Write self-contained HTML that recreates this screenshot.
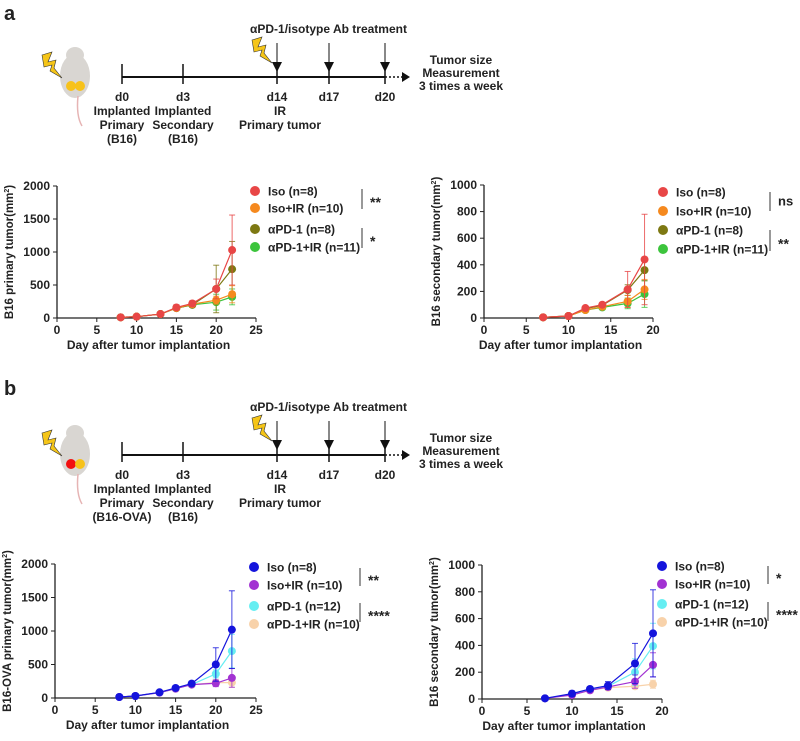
<!DOCTYPE html>
<html><head><meta charset="utf-8"><style>
body{margin:0;background:#fff;width:800px;height:736px;overflow:hidden}
svg text{font-family:"Liberation Sans","DejaVu Sans",sans-serif;font-weight:bold;fill:#222}
</style></head><body>
<svg id="fig" width="800" height="736" viewBox="0 0 800 736" xmlns="http://www.w3.org/2000/svg">
<text x="4" y="20" font-size="20">a</text>
<text x="4" y="395" font-size="20">b</text>
</svg>
<script>
// ---- data ----
const daysA=[8,10,13,15,17,20,22];
const daysB=[7,10,12,14,17,19];
const names=["Iso (n=8)","Iso+IR (n=10)","αPD-1 (n=8)","αPD-1+IR (n=11)"];
const namesB=["Iso (n=8)","Iso+IR (n=10)","αPD-1 (n=12)","αPD-1+IR (n=10)"];
const c1Iso=[10,20,60,160,220,440,1030];
const c1IsoIR=[10,20,60,150,210,270,360];
const c1Pd=[10,20,60,150,200,440,740];
const c1PdIR=[10,20,60,150,200,240,320];
const c1Err=[[10,15,30,40,40,150,530],[5,10,20,30,30,60,130],[5,10,20,30,30,360,420],[5,10,20,30,30,120,120]];
const c2Iso=[5,15,75,100,215,440];
const c2IsoIR=[5,15,60,85,125,215];
const c2Pd=[5,15,70,95,210,360];
const c2PdIR=[5,15,60,80,110,180];
const c2Err=[[3,5,10,15,135,340],[3,5,10,10,45,75],[3,5,10,10,40,80],[3,5,10,10,40,100]];
const c3Iso=[15,30,85,150,215,500,1020];
const c3IsoIR=[15,30,80,140,200,220,300];
const c3Pd=[15,30,80,140,200,360,700];
const c3PdIR=[15,30,80,140,200,230,230];
const c3Err=[[5,10,30,30,30,250,580],[5,10,20,20,20,50,140],[5,10,20,20,20,60,250],[5,10,20,20,20,40,70]];
const c4Iso=[5,40,75,100,265,490];
const c4IsoIR=[5,30,65,90,130,255];
const c4Pd=[5,35,70,95,200,395];
const c4PdIR=[5,30,65,85,95,110];
const c4Err=[[3,20,10,30,150,325],[3,10,10,10,50,90],[3,10,10,10,100,170],[3,10,10,10,15,30]];
const xTicksA=[0,5,10,15,20,25], xTicksB=[0,5,10,15,20];
const yTicks1=[0,500,1000,1500,2000], yTicks2=[0,200,400,600,800,1000];
const colA=["#e84646","#f5891e","#7d7812","#3cc43c"];
const colB=["#1414dc","#a232d2","#66eef2","#f8d2aa"];

const svg=document.getElementById('fig');
const NS="http://www.w3.org/2000/svg";
function mk(tag,attrs,parent,txt){const e=document.createElementNS(NS,tag);for(const k in attrs)e.setAttribute(k,attrs[k]);if(txt!==undefined)e.textContent=txt;(parent||svg).appendChild(e);return e;}

function chart(o){
  const g=mk('g',{});
  
  
  const X=v=>o.x0+(v-0)/(o.xmax)*(o.x1-o.x0);
  const Y=v=>o.y0-(v/o.ymax)*(o.y0-o.y1);
  mk('line',{x1:o.x0,y1:o.y0,x2:o.x1,y2:o.y0,stroke:'#222','stroke-width':1.3},g);
  mk('line',{x1:o.x0,y1:o.y0,x2:o.x0,y2:o.y1,stroke:'#222','stroke-width':1.3},g);
  o.xt.forEach(t=>{mk('line',{x1:X(t),y1:o.y0,x2:X(t),y2:o.y0+4,stroke:'#222'},g);
    const e=mk('text',{x:X(t),y:o.y0+16,'font-size':12,'text-anchor':'middle'},g,t);
    });
  o.yt.forEach(t=>{mk('line',{x1:o.x0-4,y1:Y(t),x2:o.x0,y2:Y(t),stroke:'#222'},g);
    const e=mk('text',{x:o.x0-7,y:Y(t)+4,'font-size':12,'text-anchor':'end'},g,t);
    });
  const xt=mk('text',{x:(o.x0+o.x1)/2-8,y:o.y0+31,'font-size':12,'text-anchor':'middle'},g,'Day after tumor implantation');
  
  const yt=mk('text',{transform:`translate(${o.x0-44},${(o.y0+o.y1)/2}) rotate(-90)`,'font-size':11.5,'text-anchor':'middle'},g);
  yt.textContent=o.ytitle;
  mk('tspan',{'font-size':7,dy:-4},yt,'2');mk('tspan',{dy:4},yt,')');
  
  for(let i=o.series.length-1;i>=0;i--){
    const s=o.series[i];
    const c=o.cols[i];
    const pts=s.map((v,j)=>X(o.days[j])+','+Y(v)).join(' ');
    const pl=mk('polyline',{points:pts,fill:'none',stroke:c,'stroke-width':1.2},g);
    
    s.forEach((v,j)=>{const e=o.err[i][j],x=X(o.days[j]);
      mk('line',{x1:x,y1:Y(v+e),x2:x,y2:Y(Math.max(0,v-e)),stroke:c,'stroke-width':1,opacity:0.8},g);
      mk('line',{x1:x-3,y1:Y(v+e),x2:x+3,y2:Y(v+e),stroke:c,'stroke-width':1,opacity:0.8},g);
      mk('line',{x1:x-3,y1:Y(Math.max(0,v-e)),x2:x+3,y2:Y(Math.max(0,v-e)),stroke:c,'stroke-width':1,opacity:0.8},g);
      const p=mk('circle',{cx:x,cy:Y(v),r:4,fill:c},g);
      });
  }
  o.leg.forEach((n,i)=>{
    const c=mk('circle',{cx:o.lx,cy:o.ly[i],r:5,fill:o.cols[i]},g);
    
    const t=mk('text',{x:o.lx+13,y:o.ly[i]+4.5,'font-size':12},g,n);
    
  });
  o.sig.forEach(s=>{mk('line',{x1:s.x,y1:s.ya,x2:s.x,y2:s.yb,stroke:'#333','stroke-width':1},g);
    const t=mk('text',{x:s.x+8,y:(s.ya+s.yb)/2+(s.t==='ns'?4:8),'font-size':s.t==='ns'?13:14},g,s.t);
    });
}
chart({name:'chart-a-primary',x0:57,x1:256,y0:318,y1:186,xmax:25,ymax:2000,xt:xTicksA,yt:yTicks1,days:daysA,
 series:[c1Iso,c1IsoIR,c1Pd,c1PdIR],err:c1Err,cols:colA,ytitle:'B16 primary tumor(mm',leg:names,lx:255,ly:[191,208,229,247],
 sig:[{x:362,ya:189,yb:209,t:'**'},{x:362,ya:228,yb:248,t:'*'}]});
chart({name:'chart-a-secondary',x0:484,x1:653,y0:318,y1:185,xmax:20,ymax:1000,xt:xTicksB,yt:yTicks2,days:daysB,
 series:[c2Iso,c2IsoIR,c2Pd,c2PdIR],err:c2Err,cols:colA,ytitle:'B16 secondary tumor(mm',leg:names,lx:663,ly:[192,211,230,249],
 sig:[{x:770,ya:192,yb:211,t:'ns'},{x:770,ya:230,yb:251,t:'**'}]});
chart({name:'chart-b-primary',x0:55,x1:256,y0:698,y1:564,xmax:25,ymax:2000,xt:xTicksA,yt:yTicks1,days:daysA,
 series:[c3Iso,c3IsoIR,c3Pd,c3PdIR],err:c3Err,cols:colB,ytitle:'B16-OVA primary tumor(mm',leg:namesB,lx:254,ly:[567,585,606,624],
 sig:[{x:360,ya:568,yb:586,t:'**'},{x:360,ya:603,yb:622,t:'****'}]});
chart({name:'chart-b-secondary',x0:482,x1:662,y0:699,y1:565,xmax:20,ymax:1000,xt:xTicksB,yt:yTicks2,days:daysB,
 series:[c4Iso,c4IsoIR,c4Pd,c4PdIR],err:c4Err,cols:colB,ytitle:'B16 secondary tumor(mm',leg:namesB,lx:662,ly:[566,584,604,622],
 sig:[{x:768,ya:566,yb:584,t:'*'},{x:768,ya:602,yb:621,t:'****'}]});

// ---- timelines ----
function timeline(oy,name,prim,red){
  const g=mk('g',{});
  
  mk('ellipse',{cx:75,cy:oy+76,rx:15,ry:22,fill:'#d9d6d2'},g);
  mk('ellipse',{cx:75,cy:oy+55,rx:9,ry:8,fill:'#d9d6d2'},g);
  mk('path',{d:`M78 ${oy+96} q-2 20 4 30`,stroke:'#e6b4b4','stroke-width':1.5,fill:'none'},g);
  mk('circle',{cx:71,cy:oy+86,r:5,fill:red?'#f21010':'#f7c21a'},g);
  mk('circle',{cx:80,cy:oy+86,r:5,fill:'#f7c21a'},g);
  const bolt=(x,y)=>mk('path',{d:`M${x} ${y} l10 -3 l-4 10 l8 -2 l-2 8 l8 10 l-12 -7 l2 -6 l-8 2 z`,fill:'#f5c518',stroke:'#333','stroke-width':0.6},g);
  bolt(42,oy+55);bolt(252,oy+40);
  mk('line',{x1:122,y1:oy+77,x2:385,y2:oy+77,stroke:'#111','stroke-width':2},g);
  mk('line',{x1:385,y1:oy+77,x2:402,y2:oy+77,stroke:'#111','stroke-width':1.5,'stroke-dasharray':'2,2'},g);
  mk('path',{d:`M402 ${oy+72} l8 5 l-8 5z`,fill:'#111'},g);
  [[122,'d0'],[183,'d3'],[277,'d14'],[329,'d17'],[385,'d20']].forEach(([x,l],i)=>{
    mk('line',{x1:x,y1:oy+(i<2?64:70),x2:x,y2:oy+84,stroke:'#111','stroke-width':1.5},g);
    if(i>=2){mk('line',{x1:x,y1:oy+43,x2:x,y2:oy+64,stroke:'#111','stroke-width':1},g);
      mk('path',{d:`M${x-5} ${oy+62} l10 0 l-5 10z`,fill:'#111'},g);}
    mk('text',{x:x,y:oy+101,'font-size':12,'text-anchor':'middle'},g,l);
  });
  const lines=[[122,['Implanted','Primary',prim]],[183,['Implanted','Secondary','(B16)']],[280,['IR','Primary tumor']]];
  lines.forEach(([x,ls])=>ls.forEach((t,k)=>mk('text',{x:x,y:oy+115+k*14,'font-size':12,'text-anchor':'middle'},g,t)));
  mk('text',{x:250,y:oy+33,'font-size':12},g,'αPD-1/isotype Ab treatment');
  ['Tumor size','Measurement','3 times a week'].forEach((t,k)=>mk('text',{x:461,y:oy+64+k*13,'font-size':12,'text-anchor':'middle'},g,t));
}
timeline(0,'timeline-a','(B16)',false);
timeline(378,'timeline-b','(B16-OVA)',true);
</script>
</body></html>
